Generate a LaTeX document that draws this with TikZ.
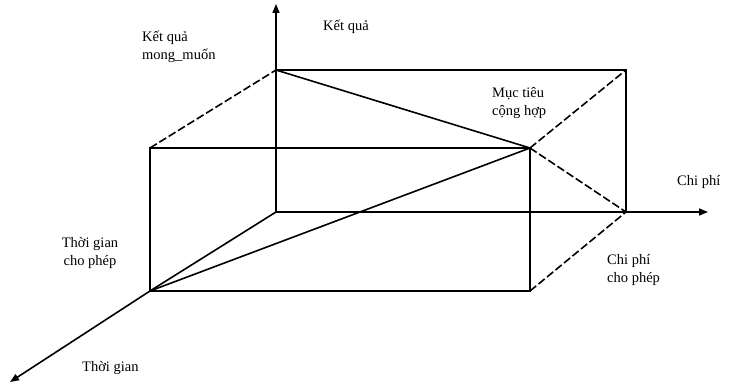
\documentclass[tikz,border=0pt]{standalone}
\usepackage{fontspec}
\setmainfont{Liberation Serif}
\usetikzlibrary{arrows.meta}
\begin{document}
\begin{tikzpicture}[x=1pt,y=-1pt,
  edge/.style={line width=1.6pt},
  hid/.style={edge,dash pattern=on 8pt off 3pt},
  axis/.style={edge,-{Triangle[length=9pt,width=7pt]}},
  lbl/.style={font=\fontsize{14.5}{17.5}\selectfont, inner sep=0pt, align=left}]
\useasboundingbox (0,0) rectangle (732,387);
\coordinate (O) at (276,212);
\coordinate (BTL) at (276,70);
\coordinate (BTR) at (626,70);
\coordinate (BBR) at (626,212);
\coordinate (FTL) at (150,148);
\coordinate (FTR) at (530,148);
\coordinate (FBR) at (530,291);
\coordinate (FBL) at (150,291);
\coordinate (Zend) at (276,4);
\coordinate (Xend) at (708,212);
\coordinate (Yend) at (10,382);
% axes
\draw[axis] (O) -- (Zend);
\draw[axis] (O) -- (Xend);
\draw[edge] (O) -- (FBL);
\draw[axis] (FBL) -- (Yend);
% back face
\draw[edge] (BTL) -- (BTR) -- (BBR);
% front face
\draw[edge] (FTL) -- (FTR) -- (FBR) -- (FBL) -- cycle;
% depth edges
\draw[hid] (FTL) -- (BTL);
\draw[hid] (FTR) -- (BTR);
\draw[hid] (FBR) -- (BBR);
% diagonals
\draw[edge] (BTL) -- (FTR);
\draw[edge] (FBL) -- (FTR);
\draw[hid] (FTR) -- (BBR);
% labels
\node[lbl, anchor=west] (kqmm) at (142,47) {Kết quả\\mong\_muốn};
\node[lbl, anchor=west] (kq) at (323,27) {Kết quả};
\node[lbl, anchor=west] (mt) at (492,103) {Mục tiêu\\cộng hợp};
\node[lbl, anchor=west] (cp) at (677,182) {Chi phí};
\node[lbl, align=center] (tgcp) at (90,253) {Thời gian\\cho phép};
\node[lbl, anchor=west] (cpcp) at (607,270) {Chi phí\\cho phép};
\node[lbl, anchor=west] (tg) at (82,368) {Thời gian};
\end{tikzpicture}
\end{document}
